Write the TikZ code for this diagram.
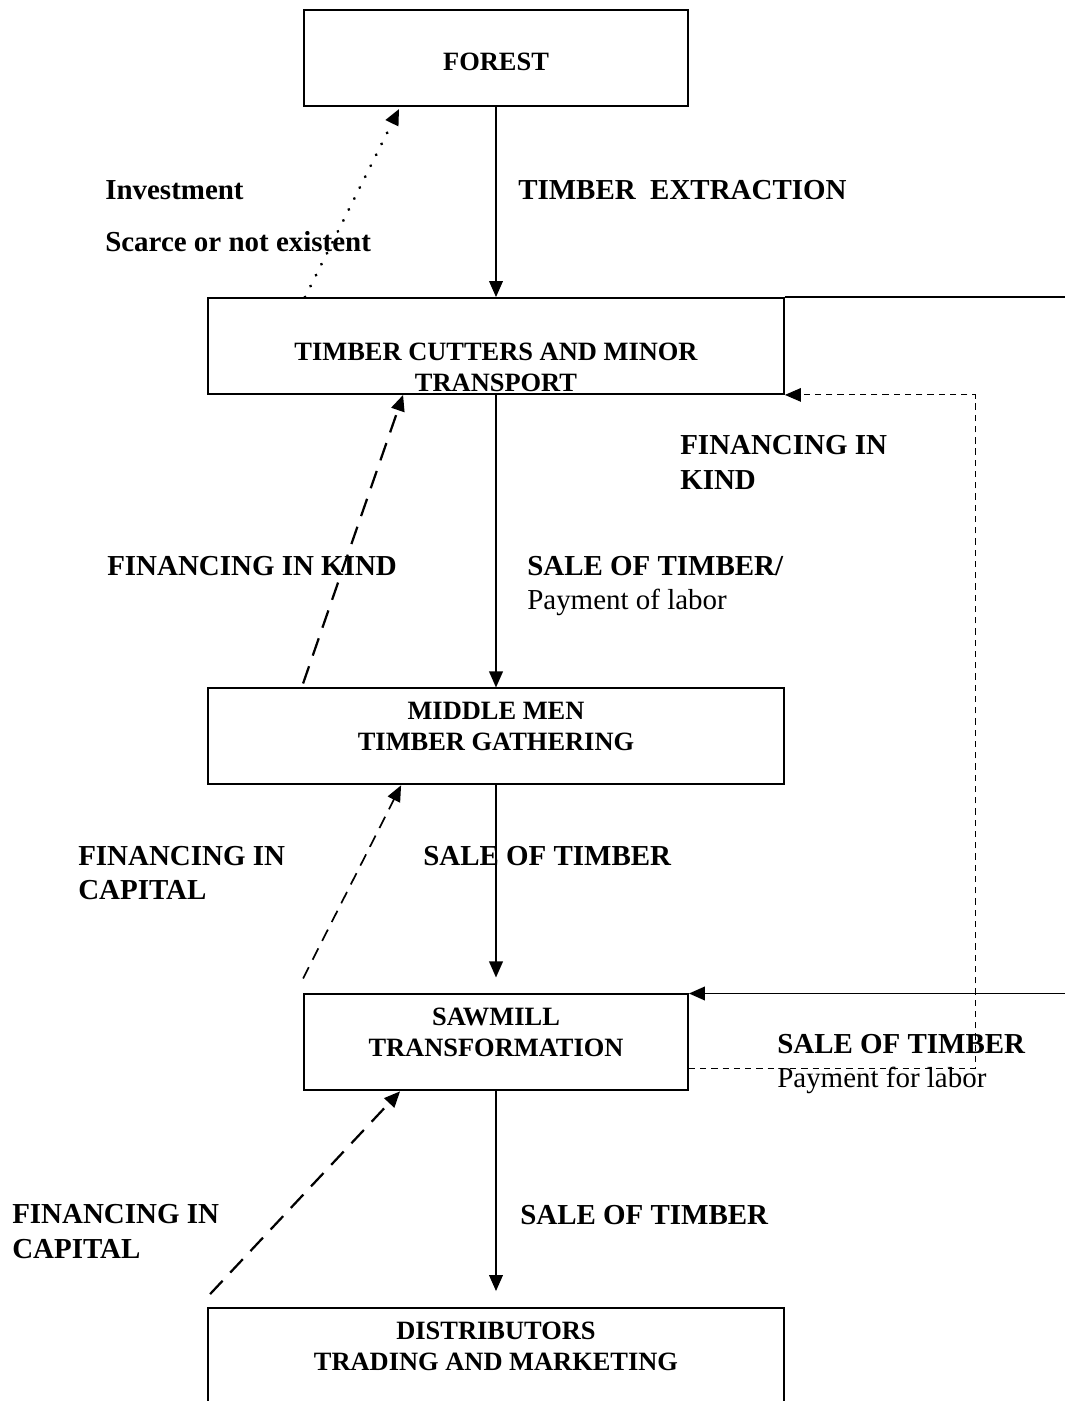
\documentclass[tikz,border=0pt]{standalone}
\usepackage{fontspec}
\setmainfont{Liberation Serif}
\usetikzlibrary{arrows.meta, positioning}
\newcommand{\boxfont}{\fontsize{18.8}{22}\selectfont\bfseries}
\newcommand{\lblfont}{\fontsize{20.6}{24.5}\selectfont\bfseries}
\tikzset{
  stagebox/.style={draw=black,line width=1.3pt,minimum width=14.4cm,minimum height=2.4cm,inner sep=0pt,align=center,font=\boxfont,text height=0.725cm,text depth=0cm},
  narrowbox/.style={stagebox,minimum width=9.6cm},
  flowlbl/.style={anchor=west,inner sep=0pt,align=left,font=\lblfont},
  tip/.style={-{Triangle[length=0.4cm,width=0.34cm]}},
  flowedge/.style={tip,line width=1.3pt},
  dotedge/.style={tip,line width=2.2pt,line cap=round,dash pattern=on 0.1pt off 8.6pt},
  longdash/.style={tip,line width=1.6pt,dash pattern=on 13pt off 8pt},
  shortdash/.style={tip,line width=1.2pt,dash pattern=on 9pt off 6pt},
  thindash/.style={tip,line width=0.7pt,dash pattern=on 4.5pt off 3.5pt},
}
\begin{document}
\begin{tikzpicture}
  \useasboundingbox (0,0) rectangle (26.6,-35.025);
  % stages of the chain
  \node[narrowbox,text height=0.64cm] (nForest) at (12.4,-1.45) {FOREST};
  \node[stagebox,text height=2.25cm] (nCut) at (12.4,-8.65) {TIMBER CUTTERS AND MINOR\\TRANSPORT};
  \node[stagebox] (nMid) at (12.4,-18.41) {MIDDLE MEN\\TIMBER GATHERING};
  \node[narrowbox] (nSaw) at (12.4,-26.06) {SAWMILL\\TRANSFORMATION};
  \node[stagebox] (nDist) at (12.4,-33.9) {DISTRIBUTORS\\TRADING AND MARKETING};
  \coordinate (cRim) at (27.4,-16.0);
  \coordinate (cLoop) at (24.375,-18.0);
  % labels
  \node[flowlbl] (lInv) at (2.625,-4.75) {Investment};
  \node[flowlbl] (lScarce) at (2.625,-6.05) {Scarce or not existent};
  \node[flowlbl] (lExtr) at (12.95,-4.75) {TIMBER~~EXTRACTION};
  \node[flowlbl] (lKindR) at (17.0,-11.56) {FINANCING IN\\KIND};
  \node[flowlbl] (lKindL) at (2.675,-14.15) {FINANCING IN KIND};
  \node[flowlbl] (lSale1) at (13.175,-14.65) {SALE OF TIMBER/\\\mdseries Payment of labor};
  \node[flowlbl] (lCap1) at (1.95,-21.825) {FINANCING IN\\CAPITAL};
  \node[flowlbl] (lSale2) at (10.575,-21.4) {SALE OF TIMBER};
  \node[flowlbl] (lSale3) at (19.425,-26.6) {SALE OF TIMBER\\\mdseries Payment for labor};
  \node[flowlbl] (lCap2) at (0.3,-30.79) {FINANCING IN\\CAPITAL};
  \node[flowlbl] (lSale4) at (13.0,-30.375) {SALE OF TIMBER};
  % main flow
  \draw[flowedge] (nForest) -- (nCut);
  \draw[flowedge] (nCut) -- (nMid);
  \draw[flowedge,shorten >=0.4cm] (nMid) -- (nSaw);
  \draw[flowedge,shorten >=0.4cm] (nSaw) -- (nDist);
  \draw[flowedge] (nCut.north east) -| (cRim) |- (nSaw.north east);
  % financing back
  \draw[dotedge] ([xshift=2.45cm]nCut.north west) -- ([xshift=2.4cm,yshift=-0.05cm]nForest.south west);
  \draw[longdash] ([xshift=2.4cm,yshift=0.1cm]nMid.north west) -- ([xshift=4.9cm]nCut.south west);
  \draw[shortdash] ([yshift=0.375cm]nSaw.north west) -- ([xshift=4.85cm]nMid.south west);
  \draw[longdash] ([xshift=0.075cm,yshift=0.325cm]nDist.north west) -- ([xshift=2.425cm]nSaw.south west);
  \draw[thindash] ([yshift=-0.65cm]nSaw.east) -| (cLoop) |- (nCut.south east);
\end{tikzpicture}
\end{document}
